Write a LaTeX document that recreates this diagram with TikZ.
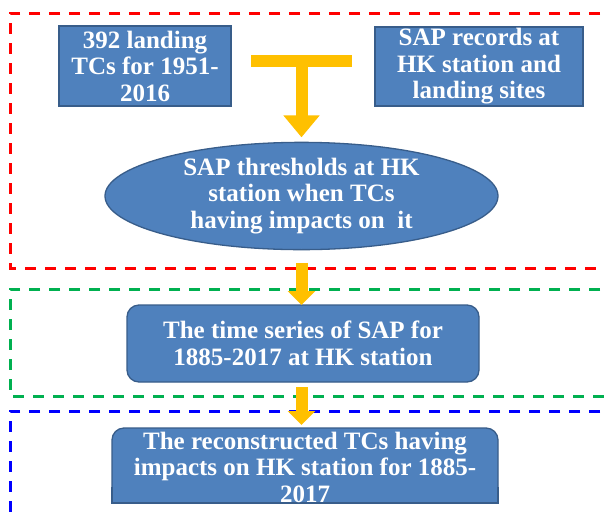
\documentclass[tikz,border=0pt]{standalone}
\usepackage{fontspec}
\setmainfont{Liberation Serif}
\usetikzlibrary{shapes.geometric,arrows.meta,calc}
\definecolor{boxfill}{HTML}{4F81BD}
\definecolor{boxline}{HTML}{385D8A}
\definecolor{arrowc}{HTML}{FFC000}
\definecolor{dred}{HTML}{FF0000}
\definecolor{dgreen}{HTML}{00B050}
\definecolor{dblue}{HTML}{0000FF}
\begin{document}
\begin{tikzpicture}[x=1pt,y=-1pt,
  txt/.style={text=white, align=center, inner sep=0pt, outer sep=0pt,
    font=\fontsize{25}{26.5}\selectfont\bfseries},
  box/.style={txt, rectangle, fill=boxfill, draw=boxline, line width=1.3pt},
  rbox/.style={box, rounded corners=12pt},
  ellbox/.style={txt, ellipse, fill=boxfill, draw=boxline, line width=1.3pt},
  frame/.style={line width=3pt, dash pattern=on 11pt off 9pt},
  blockarr/.style={draw=arrowc, line width=12pt, -{Triangle[length=14pt,width=27pt]}},
  bigarr/.style={draw=arrowc, line width=12pt, -{Triangle[length=22pt,width=35pt]}}
]
\useasboundingbox (0,0) rectangle (605,515);
\clip (0,0) rectangle (605,515);
\fill[white] (0,0) rectangle (605,515);

% dashed frames
\draw[frame, dred] (640,13) -- (10,13) -- (10,268) -- (640,268);
\draw[frame, dgreen] (640,289) -- (10,289) -- (10,396) -- (640,396);
\draw[frame, dblue] (640,411) -- (10,411) -- (10,540) -- (640,540);

% nodes
\node[box, minimum width=172pt, minimum height=80pt] (b1) at (145,66) {392 landing\\TCs for 1951-\\2016};
\node[box, minimum width=208pt, minimum height=79pt] (b2) at (479,66.5) {SAP records at\\HK station and\\landing sites};
\node[ellbox, minimum width=393pt, minimum height=102pt] (ell) at (301.5,196) {SAP thresholds at HK\\station when TCs\\having impacts on\ \ it};
\node[rbox, minimum width=352pt, minimum height=77pt] (b3) at (303,343.5) {The time series of SAP for\\1885-2017 at HK station};
\node[rbox, minimum width=386pt, minimum height=75pt] (b4) at (305,465.5) {};
% square bottom corners of b4
\fill[boxfill] (b4.south west) rectangle ++(16,-16);
\fill[boxfill] (b4.south east) rectangle ++(-16,-16);
\draw[boxline, line width=1.3pt] ([yshift=16pt]b4.south west) -- (b4.south west) -- (b4.south east) -- ([yshift=16pt]b4.south east);
\node[txt] (t4) at (305,467) {The reconstructed TCs having\\impacts on HK station for 1885-\\2017};

% connectors
\coordinate (tL) at (251,61);
\coordinate (tR) at (352,61);
\coordinate (tM) at ($(tL)!0.5!(tR)$);
\draw[draw=arrowc, line width=12pt] (tL) -- (tR);
\draw[bigarr] ([yshift=6pt]tM) -- ([yshift=5pt]ell.north);
\draw[blockarr] ([yshift=-13pt]ell.south) -- (ell.south |- b3.north);
\draw[blockarr] (ell.south |- b3.south) ++(0,5) -- ($(ell.south |- b4.north)+(0,-3)$);
\end{tikzpicture}
\end{document}
